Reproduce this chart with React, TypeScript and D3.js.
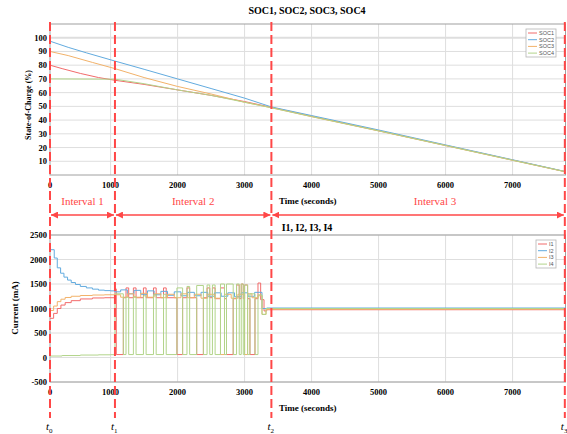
import React, { useEffect, useRef } from 'react'
import * as d3 from 'd3'

const chartWidth = 567
const chartHeight = 434

// switching instants (seconds)
const tMarks = [0, 1065, 3400, 7780]
const tSubs = ['0', '1', '2', '3']
const intervalNames = ['Interval 1', 'Interval 2', 'Interval 3']

const xTicks = [0, 1000, 2000, 3000, 4000, 5000, 6000, 7000]
const socTicks = [10, 20, 30, 40, 50, 60, 70, 80, 90, 100]
const curTicks = [-500, 0, 500, 1000, 1500, 2000, 2500]

const socNames = ['SOC1', 'SOC2', 'SOC3', 'SOC4']
const curNames = ['I1', 'I2', 'I3', 'I4']
const colors = ['#f26b6b', '#62abdf', '#f2b26a', '#b2d48a']

type Pt = [number, number]

const soc1: Pt[] = [
  [0, 80], [200, 77.5], [500, 74], [800, 71], [1065, 69], [1500, 66], [2000, 62], [2500, 58],
  [3000, 53.5], [3400, 49.3], [4000, 42.8], [5000, 32.3], [6000, 21.6], [7000, 10.9], [7790, 2.4],
]
const soc2: Pt[] = [
  [0, 97.5], [300, 93], [600, 89], [1065, 83], [1500, 77], [2000, 70], [2500, 63], [3000, 56],
  [3400, 49.6], [4000, 43.3], [5000, 32.8], [6000, 21.9], [7000, 11.1], [7790, 2.5],
]
const soc3: Pt[] = [
  [0, 90], [300, 87], [700, 82], [1065, 77.5], [1500, 71], [2000, 64.5], [2500, 59], [3000, 53],
  [3400, 49], [4000, 42.5], [5000, 32.1], [6000, 21.4], [7000, 10.7], [7790, 2.3],
]
const soc4: Pt[] = [
  [0, 70], [1065, 69.8], [1500, 66.5], [2000, 62], [2500, 58], [3000, 53], [3400, 49],
  [4000, 42.6], [5000, 32.2], [6000, 21.5], [7000, 10.8], [7790, 2.4],
]

const cur1: Pt[] = [
  [0, 800], [60, 900], [120, 1000], [180, 1070], [250, 1120], [350, 1160], [500, 1195], [700, 1215],
  [900, 1220], [1065, 1400], [1085, 60], [1190, 1220], [1230, 1420], [1270, 1220], [1340, 1420],
  [1380, 1220], [1490, 1420], [1530, 1220], [1640, 1420], [1680, 1220], [1790, 1420], [1830, 1220],
  [1990, 60], [2075, 1220], [2140, 1420], [2180, 1220], [2285, 60], [2385, 1220], [2440, 1420],
  [2480, 1220], [2520, 1420], [2560, 1200], [2640, 1420], [2700, 1200], [2730, 60], [2830, 1200],
  [2880, 1480], [2920, 1200], [2950, 1500], [2980, 1200], [3000, 1480], [3045, 1200], [3080, 60],
  [3155, 1200], [3200, 1520], [3240, 1180], [3290, 950], [3330, 975], [7790, 975],
]
const cur2: Pt[] = [
  [0, 2200], [70, 2030], [120, 1830], [175, 1720], [230, 1640], [290, 1580], [350, 1530], [420, 1490],
  [500, 1450], [600, 1420], [700, 1395], [800, 1375], [900, 1365], [1000, 1360], [1065, 1340],
  [1150, 1380], [1250, 1300], [1350, 1370], [1450, 1290], [1550, 1360], [1650, 1280], [1750, 1350],
  [1850, 1270], [1950, 1340], [2050, 1260], [2150, 1330], [2250, 1260], [2350, 1330], [2450, 1250],
  [2550, 1320], [2650, 1250], [2750, 1320], [2850, 1240], [2950, 1320], [3050, 1250], [3150, 1330],
  [3260, 1000], [3330, 1010], [7790, 1010],
]
const cur3: Pt[] = [
  [0, 960], [60, 1050], [120, 1140], [180, 1190], [250, 1225], [350, 1250], [500, 1265], [700, 1275],
  [900, 1280], [1065, 1280], [1150, 1230], [1250, 1300], [1350, 1230], [1450, 1310], [1550, 1230],
  [1650, 1300], [1750, 1220], [1850, 1290], [1950, 1220], [2050, 1300], [2150, 1220], [2250, 1290],
  [2350, 1210], [2450, 1290], [2550, 1210], [2640, 60], [2700, 1290], [2800, 1210], [2900, 1290],
  [3000, 60], [3045, 1300], [3110, 1220], [3200, 1260], [3260, 880], [3320, 985], [7790, 985],
]
const cur4: Pt[] = [
  [0, 30], [200, 40], [500, 50], [800, 55], [1000, 58], [1065, 1300], [1190, 60], [1230, 1230],
  [1270, 60], [1340, 1240], [1380, 60], [1490, 1260], [1530, 60], [1640, 1280], [1680, 60],
  [1790, 1290], [1830, 60], [1990, 1420], [2075, 60], [2140, 1450], [2180, 60], [2285, 1470],
  [2385, 60], [2440, 1480], [2480, 60], [2520, 1480], [2560, 60], [2640, 1500], [2700, 60],
  [2730, 1500], [2830, 60], [2880, 1500], [2920, 60], [2950, 1500], [2980, 60], [3000, 1480],
  [3045, 60], [3080, 1300], [3155, 60], [3200, 1280], [3260, 880], [3320, 1000], [7790, 1000],
]

const socSeries = [soc1, soc2, soc3, soc4]
const curSeries = [cur1, cur2, cur3, cur4]

const serif = '"Liberation Serif", "Times New Roman", serif'
const sans = '"Liberation Sans", Arial, sans-serif'
const red = '#ff4747'

const App = () => {
  const svgRef = useRef<SVGSVGElement>(null)

  useEffect(() => {
    document.body.style.margin = '0'
    const svg = d3.select(svgRef.current)
    svg.selectAll('*').remove()

    // the first 1000 s are drawn a bit narrower than the rest in the original figure
    const x = d3.scaleLinear().domain([0, 1000, 7790]).range([50, 110.6, 565.5])
    const ySoc = d3.scaleLinear().domain([0, 110]).range([175, 24])
    const yCur = d3.scaleLinear().domain([-500, 2500]).range([382, 235])

    const defs = svg.append('defs')
    defs
      .append('marker')
      .attr('id', 'arrow')
      .attr('viewBox', '0 0 10 10')
      .attr('refX', 10)
      .attr('refY', 5)
      .attr('markerWidth', 7)
      .attr('markerHeight', 7)
      .attr('markerUnits', 'userSpaceOnUse')
      .attr('orient', 'auto-start-reverse')
      .append('path')
      .attr('d', 'M0,0L10,5L0,10Z')
      .attr('fill', red)

    const panel = (
      y: d3.ScaleLinear<number, number>,
      ticks: number[],
      series: Pt[][],
      names: string[],
      step: boolean,
      legend: { x: number; y: number; w: number }
    ) => {
      const [bottom, top] = y.range()
      const g = svg.append('g')

      // grid
      g.append('g')
        .selectAll('line')
        .data(xTicks.filter((d) => d > 0))
        .join('line')
        .attr('x1', (d) => x(d))
        .attr('x2', (d) => x(d))
        .attr('y1', top)
        .attr('y2', bottom)
        .style('stroke', '#dedede')
      g.append('g')
        .selectAll('line')
        .data(ticks)
        .join('line')
        .attr('x1', x(0))
        .attr('x2', x(7790))
        .attr('y1', (d) => y(d))
        .attr('y2', (d) => y(d))
        .style('stroke', '#dedede')
        .style('stroke-width', (d) => (d === 100 ? 2 : 1))

      g.append('rect')
        .attr('x', x(0))
        .attr('y', top)
        .attr('width', x(7790) - x(0))
        .attr('height', bottom - top)
        .style('fill', 'none')
        .style('stroke', '#a0a0a0')

      // tick labels
      g.append('g')
        .selectAll('text')
        .data(xTicks)
        .join('text')
        .text((d) => d)
        .attr('x', (d) => x(d))
        .attr('y', bottom + 13)
        .attr('text-anchor', 'middle')
        .attr('font-family', serif)
        .attr('font-weight', 'bold')
        .attr('font-size', 8.5)
      g.append('g')
        .selectAll('text')
        .data(ticks)
        .join('text')
        .text((d) => d)
        .attr('x', 47)
        .attr('y', (d) => y(d) + 3)
        .attr('text-anchor', 'end')
        .attr('font-family', serif)
        .attr('font-weight', 'bold')
        .attr('font-size', 8.5)

      g.append('text')
        .text('Time (seconds)')
        .attr('x', 279)
        .attr('y', bottom + 29)
        .attr('font-family', serif)
        .attr('font-weight', 'bold')
        .attr('font-size', 9)

      const line = d3
        .line<Pt>()
        .x((d) => x(d[0]))
        .y((d) => y(d[1]))
        .curve(step ? d3.curveStepAfter : d3.curveLinear)

      g.append('g')
        .selectAll('path')
        .data(series)
        .join('path')
        .attr('d', (d) => line(d))
        .style('fill', 'none')
        .style('stroke', (d, i) => colors[i])
        .style('stroke-width', 1)

      // legend
      const lg = g.append('g').attr('transform', `translate(${legend.x},${legend.y})`)
      lg.append('rect')
        .attr('width', legend.w)
        .attr('height', 28)
        .style('fill', 'white')
        .style('stroke', '#b4b4b4')
        .style('stroke-width', 0.8)
      const rows = lg
        .selectAll('g.row')
        .data(names)
        .join('g')
        .attr('class', 'row')
        .attr('transform', (d, i) => `translate(0,${4 + i * 6.7})`)
      rows
        .append('line')
        .attr('x1', 2)
        .attr('x2', 11)
        .style('stroke', (d, i) => colors[i])
        .style('stroke-width', 1)
      rows
        .append('text')
        .text((d) => d)
        .attr('x', 13)
        .attr('y', 2)
        .attr('font-family', sans)
        .attr('font-size', 5.5)
        .style('fill', '#555')
    }

    panel(ySoc, socTicks, socSeries, socNames, false, { x: 526, y: 29, w: 30 })
    panel(yCur, curTicks, curSeries, curNames, true, { x: 536, y: 240, w: 20 })

    // titles
    svg.append('text')
      .text('SOC1, SOC2, SOC3, SOC4')
      .attr('x', 307)
      .attr('y', 14)
      .attr('text-anchor', 'middle')
      .attr('font-family', serif)
      .attr('font-weight', 'bold')
      .attr('font-size', 10)
    svg.append('text')
      .text('I1, I2, I3, I4')
      .attr('x', 307)
      .attr('y', 231)
      .attr('text-anchor', 'middle')
      .attr('font-family', serif)
      .attr('font-weight', 'bold')
      .attr('font-size', 10)

    svg.append('text')
      .text('State-of-Charge (%)')
      .attr('transform', 'translate(31,105) rotate(-90)')
      .attr('text-anchor', 'middle')
      .attr('font-family', serif)
      .attr('font-weight', 'bold')
      .attr('font-size', 8)
    svg.append('text')
      .text('Current (mA)')
      .attr('transform', 'translate(18,308) rotate(-90)')
      .attr('text-anchor', 'middle')
      .attr('font-family', serif)
      .attr('font-weight', 'bold')
      .attr('font-size', 9)

    // interval marks
    svg.append('g')
      .selectAll('line')
      .data(tMarks)
      .join('line')
      .attr('x1', (d) => x(d))
      .attr('x2', (d) => x(d))
      .attr('y1', 22)
      .attr('y2', 418)
      .style('stroke', red)
      .style('stroke-width', 2)
      .style('stroke-dasharray', '9,4')

    const spans = intervalNames.map((name, i) => ({ name, a: tMarks[i], b: tMarks[i + 1] }))
    svg.append('g')
      .selectAll('line')
      .data(spans)
      .join('line')
      .attr('x1', (d) => x(d.a) + 1)
      .attr('x2', (d) => x(d.b) - 1)
      .attr('y1', 215)
      .attr('y2', 215)
      .style('stroke', red)
      .style('stroke-width', 1.5)
      .attr('marker-start', 'url(#arrow)')
      .attr('marker-end', 'url(#arrow)')
    svg.append('g')
      .selectAll('text')
      .data(spans)
      .join('text')
      .text((d) => d.name)
      .attr('x', (d) => (d.name === 'Interval 3' ? 435 : (x(d.a) + x(d.b)) / 2))
      .attr('y', 205)
      .attr('text-anchor', 'middle')
      .attr('font-family', serif)
      .attr('font-size', 11)
      .style('fill', red)

    const tl = svg.append('g')
      .selectAll('text')
      .data(tMarks)
      .join('text')
      .attr('x', (d) => x(d) - 4)
      .attr('y', 430)
      .attr('font-family', serif)
      .attr('font-style', 'italic')
      .attr('font-size', 11)
    tl.append('tspan').text('t')
    tl.append('tspan')
      .text((d, i) => tSubs[i])
      .attr('dy', 3)
      .attr('font-size', 7)
      .attr('font-style', 'normal')
  }, [])

  return <svg ref={svgRef} width={chartWidth} height={chartHeight} style={{ display: 'block', background: 'white' }}></svg>
}

export default App
